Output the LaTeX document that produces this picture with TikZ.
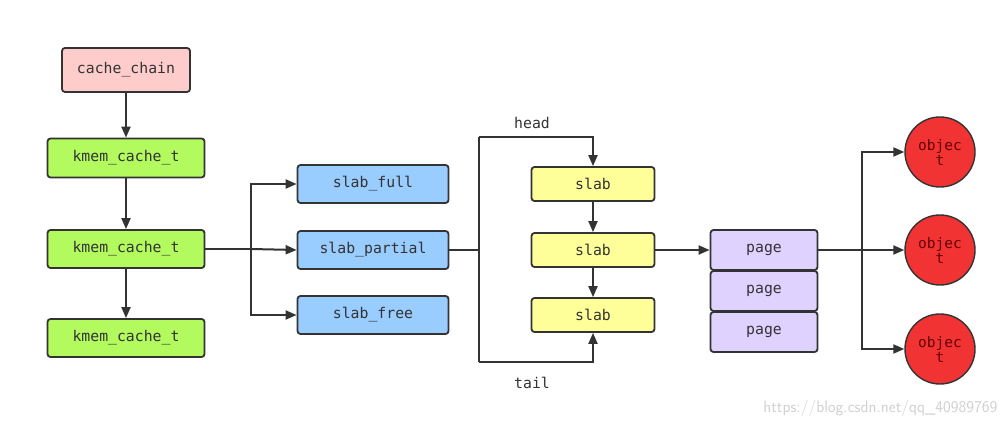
\documentclass[tikz,border=0pt]{standalone}
\usepackage{fontspec}
\setmonofont{DejaVu Sans Mono}
\usetikzlibrary{arrows.meta}
\definecolor{ln}{HTML}{333333}
\definecolor{pinkf}{HTML}{FFCCCC}
\definecolor{greenf}{HTML}{B2FA5E}
\definecolor{bluef}{HTML}{99CCFF}
\definecolor{yellf}{HTML}{FFFF99}
\definecolor{purpf}{HTML}{E0D2FF}
\definecolor{redf}{HTML}{F23333}
\tikzset{
  box/.style={draw=ln, line width=1.8pt, rounded corners=3pt, font=\ttfamily\fontsize{14.8}{16}\selectfont, text=ln, inner sep=0pt},
  conn/.style={draw=ln, line width=2pt, -{Triangle[length=11pt,width=9pt]}},
  plain/.style={draw=ln, line width=2pt},
  obj/.style={circle, draw=ln, line width=1.4pt, fill=redf, minimum size=70pt, inner sep=0pt, align=center, text=red!40!black, font=\ttfamily\fontsize{14.5}{15}\selectfont},
  lbl/.style={font=\ttfamily\fontsize{14.8}{16}\selectfont, text=ln}
}
\begin{document}
\begin{tikzpicture}[x=1pt,y=-1pt]
\fill[white] (0,0) rectangle (1008,427);
\useasboundingbox (0,0) rectangle (1008,427);
% left column
\node[box, fill=pinkf, minimum width=128pt, minimum height=44pt] (cc) at (126,70) {cache\_chain};
\node[box, fill=greenf, minimum width=157pt, minimum height=39pt] (k1) at (126,158) {kmem\_cache\_t};
\node[box, fill=greenf, minimum width=157pt, minimum height=38pt] (k2) at (126,249) {kmem\_cache\_t};
\node[box, fill=greenf, minimum width=157pt, minimum height=38pt] (k3) at (126,338) {kmem\_cache\_t};
\draw[conn] (cc) -- (k1);
\draw[conn] (k1) -- (k2);
\draw[conn] (k2) -- (k3);
% slab lists
\node[box, fill=bluef, minimum width=151pt, minimum height=38pt] (sf) at (373,184) {slab\_full};
\node[box, fill=bluef, minimum width=151pt, minimum height=38pt] (sp) at (373,250) {slab\_partial};
\node[box, fill=bluef, minimum width=151pt, minimum height=38pt] (sr) at (373,315) {slab\_free};
\coordinate (b1) at (251,249);
\draw[plain] (k2.east) -- (b1);
\draw[conn] (b1) |- (sf.west);
\draw[conn] (b1) -- (sp.west);
\draw[conn] (b1) |- (sr.west);
% slabs
\node[box, fill=yellf, minimum width=123pt, minimum height=34pt] (s1) at (593,184) {slab};
\node[box, fill=yellf, minimum width=123pt, minimum height=34pt] (s2) at (593,250) {slab};
\node[box, fill=yellf, minimum width=123pt, minimum height=34pt] (s3) at (593,315) {slab};
\draw[conn] (s1) -- (s2);
\draw[conn] (s2) -- (s3);
\coordinate (hb) at (479,250);
\coordinate (ht) at (479,137);
\coordinate (tb) at (479,362);
\draw[plain] (sp.east) -- (hb);
\draw[plain] (tb) -- (ht);
\draw[conn] (ht) -| (s1.north);
\draw[conn] (tb) -| (s3.south);
\node[lbl] (head) at (532,123) {head};
\node[lbl] (tail) at (532,383) {tail};
% pages
\node[box, fill=purpf, minimum width=107pt, minimum height=40pt] (p1) at (764,250) {page};
\node[box, fill=purpf, minimum width=107pt, minimum height=40pt] (p2) at (764,291) {page};
\node[box, fill=purpf, minimum width=107pt, minimum height=40pt] (p3) at (764,332) {page};
\draw[conn] (s2.east) -- (p1.west);
% objects
\node[obj] (o1) at (940,152) {objec\\t};
\node[obj] (o2) at (940,250) {objec\\t};
\node[obj] (o3) at (940,349) {objec\\t};
\coordinate (b2) at (862,250);
\draw[plain] (p1.east) -- (b2);
\draw[conn] (b2) |- (o1.west);
\draw[conn] (b2) -- (o2.west);
\draw[conn] (b2) |- (o3.west);
% watermark
\node[font=\sffamily\fontsize{16.5}{18}\selectfont, text=black!18, anchor=east] (wm) at (1001,408) {https://blog.csdn.net/qq\_40989769};
\end{tikzpicture}
\end{document}
